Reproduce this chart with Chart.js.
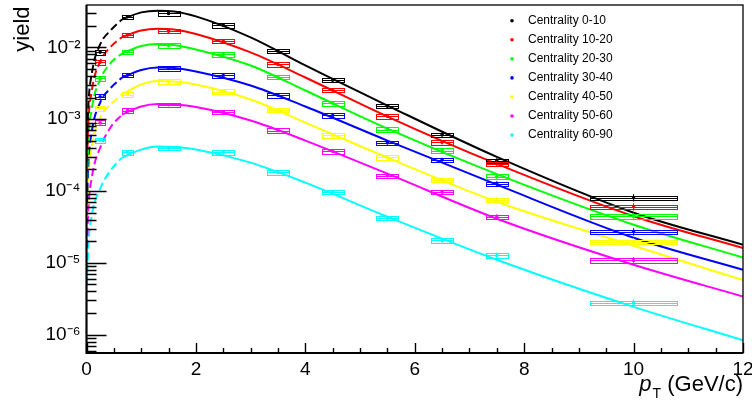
<!DOCTYPE html>
<html>
<head>
<meta charset="utf-8">
<script src="https://cdn.jsdelivr.net/npm/chart.js@4.4.1/dist/chart.umd.min.js"></script>
<style>
html,body{margin:0;padding:0;background:#ffffff;overflow:hidden;}
#c{display:block;}
</style>
</head>
<body>
<canvas id="c" width="752" height="401"></canvas>
<script>
// ---------------- data ----------------
const centralityLabels = ['Centrality 0-10','Centrality 10-20','Centrality 20-30','Centrality 30-40','Centrality 40-50','Centrality 50-60','Centrality 60-90'];
const seriesColors = ['#000000','#ff0000','#00ff00','#0000ff','#ffff00','#ff00ff','#00ffff'];

// measured points (pT bin centres, bin half widths)
const ptCenters    = [0.25, 0.75, 1.5, 2.5, 3.5, 4.5, 5.5, 6.5, 7.5, 10];
const ptHalfWidths = [0.09, 0.1, 0.2, 0.2, 0.2, 0.2, 0.2, 0.2, 0.2, 0.8];
const sysRel  = [0.08, 0.07, 0.07, 0.07, 0.07, 0.07, 0.07, 0.07, 0.07, 0.07];
const statRel = [0.03, 0.02, 0.02, 0.02, 0.03, 0.04, 0.05, 0.07, 0.10, 0.12];

const yield_0_10  = [8.6e-3, 2.68e-2, 2.98e-2, 2.03e-2, 8.88e-3, 3.5e-3, 1.52e-3, 6.1e-4, 2.65e-4, 8.1e-5];
const yield_10_20 = [6.24e-3, 1.485e-2, 1.687e-2, 1.224e-2, 5.8e-3, 2.54e-3, 1.10e-3, 4.78e-4, 2.41e-4, 6.05e-5];
const yield_20_30 = [3.7e-3, 8.7e-3, 1.066e-2, 7.98e-3, 3.86e-3, 1.67e-3, 7.18e-4, 3.66e-4, 1.59e-4, 4.44e-5];
const yield_30_40 = [2.05e-3, 4.11e-3, 5.09e-3, 4.07e-3, 2.16e-3, 1.13e-3, 4.69e-4, 2.72e-4, 1.26e-4, 2.72e-5];
const yield_40_50 = [1.43e-3, 2.21e-3, 3.36e-3, 2.43e-3, 1.36e-3, 5.98e-4, 2.95e-4, 1.43e-4, 7.58e-5, 1.97e-5];
const yield_50_60 = [8.9e-4, 1.32e-3, 1.59e-3, 1.27e-3, 6.95e-4, 3.58e-4, 1.64e-4, 9.7e-5, 4.35e-5, 1.08e-5];
const yield_60_90 = [5.09e-4, 3.47e-4, 3.99e-4, 3.47e-4, 1.82e-4, 9.7e-5, 4.21e-5, 2.05e-5, 1.27e-5, 2.75e-6];

// fitted curves (dashed = extrapolation, solid = fit range)
const fitPtDashed = [0.01, 0.03, 0.1, 0.25, 0.45, 0.65];
const fitPtSolid  = [0.65, 1.0, 1.3, 1.6, 2.0, 3.0, 4.0, 5.5, 7.5, 10, 12];

const fit_0_10_dashed  = [4.44e-4, 1.365e-3, 4.48e-3, 1.101e-2, 1.754e-2, 2.458e-2];
const fit_0_10_solid   = [2.458e-2, 3.077e-2, 3.250e-2, 3.177e-2, 2.706e-2, 1.379e-2, 5.61e-3, 1.553e-3, 2.99e-4, 4.997e-5, 1.788e-5];
const fit_10_20_dashed = [2.57e-4, 7.91e-4, 2.596e-3, 6.38e-3, 1.033e-2, 1.401e-2];
const fit_10_20_solid  = [1.401e-2, 1.726e-2, 1.823e-2, 1.782e-2, 1.543e-2, 8.52e-3, 3.816e-3, 1.091e-3, 2.388e-4, 4.466e-5, 1.608e-5];
const fit_20_30_dashed = [1.442e-4, 4.437e-4, 1.456e-3, 3.58e-3, 6.18e-3, 8.25e-3];
const fit_20_30_solid  = [8.25e-3, 1.049e-2, 1.119e-2, 1.084e-2, 9.38e-3, 5.61e-3, 2.514e-3, 7.42e-4, 1.72e-4, 3.40e-5, 1.189e-5];
const fit_30_40_dashed = [6.89e-5, 2.12e-4, 6.96e-4, 1.709e-3, 2.767e-3, 3.816e-3];
const fit_30_40_solid  = [3.816e-3, 4.856e-3, 5.26e-3, 5.18e-3, 4.63e-3, 2.951e-3, 1.503e-3, 5.05e-4, 1.228e-4, 2.239e-5, 8.01e-6];
const fit_40_50_dashed = [4.256e-5, 1.31e-4, 4.296e-4, 1.056e-3, 1.629e-3, 2.211e-3];
const fit_40_50_solid  = [2.211e-3, 3.048e-3, 3.41e-3, 3.355e-3, 3.048e-3, 1.883e-3, 8.99e-4, 2.922e-4, 7.11e-5, 1.731e-5, 5.76e-6];
const fit_50_60_dashed = [1.624e-5, 4.997e-5, 1.588e-4, 4.03e-4, 7.91e-4, 1.163e-3];
const fit_50_60_solid  = [1.163e-3, 1.503e-3, 1.629e-3, 1.603e-3, 1.48e-3, 9.59e-4, 5.05e-4, 1.748e-4, 4.12e-5, 9.41e-6, 3.40e-6];
const fit_60_90_dashed = [4.95e-6, 1.523e-5, 4.69e-5, 1.08e-4, 1.988e-4, 2.922e-4];
const fit_60_90_solid  = [2.922e-4, 3.78e-4, 4.16e-4, 4.096e-4, 3.78e-4, 2.489e-4, 1.31e-4, 4.395e-5, 1.104e-5, 2.441e-6, 8.38e-7];

// axes
const xMin = 0, xMax = 12, xStep = 2;
const yMin = 5.56e-7, yMax = 0.039;
const yTickValues = [1e-6, 1e-5, 1e-4, 1e-3, 1e-2];
const yTickLabels = ['10\u207B\u2076','10\u207B\u2075','10\u207B\u2074','10\u207B\u00B3','10\u207B\u00B2'];
const xTitleMain = 'p', xTitleSub = 'T', xTitleUnit = ' (GeV/c)';
const yTitle = 'yield';

// --------------- build ---------------
const seriesYields = [yield_0_10, yield_10_20, yield_20_30, yield_30_40, yield_40_50, yield_50_60, yield_60_90];
const seriesDashed = [fit_0_10_dashed, fit_10_20_dashed, fit_20_30_dashed, fit_30_40_dashed, fit_40_50_dashed, fit_50_60_dashed, fit_60_90_dashed];
const seriesSolid  = [fit_0_10_solid, fit_10_20_solid, fit_20_30_solid, fit_30_40_solid, fit_40_50_solid, fit_50_60_solid, fit_60_90_solid];

const FONT = "'Liberation Sans', Arial, Helvetica, sans-serif";
const datasets = [];
seriesColors.forEach((col, i) => {
  datasets.push({
    label: centralityLabels[i] + ' fit (extrapolated)',
    data: fitPtDashed.map((x, j) => ({x: x, y: seriesDashed[i][j]})),
    showLine: true, borderColor: col, backgroundColor: col, borderWidth: 2,
    borderDash: [8, 4], pointRadius: 0, cubicInterpolationMode: 'monotone', fill: false, order: 2
  });
  datasets.push({
    label: centralityLabels[i] + ' fit',
    data: fitPtSolid.map((x, j) => ({x: x, y: seriesSolid[i][j]})),
    showLine: true, borderColor: col, backgroundColor: col, borderWidth: 2,
    pointRadius: 0, cubicInterpolationMode: 'monotone', fill: false, order: 2
  });
});
seriesColors.forEach((col, i) => {
  datasets.push({
    label: centralityLabels[i],
    data: ptCenters.map((x, j) => ({x: x, y: seriesYields[i][j]})),
    showLine: false, borderColor: col, backgroundColor: col, borderWidth: 0,
    pointRadius: 1.8, pointStyle: 'circle', order: 1
  });
});

const rootDecor = {
  id: 'rootDecor',
  afterDatasetsDraw(chart) {
    const {ctx, chartArea: a, scales: {x, y}} = chart;
    ctx.save();
    ctx.beginPath(); ctx.rect(a.left, a.top, a.right - a.left, a.bottom - a.top); ctx.clip();
    seriesYields.forEach((vals, i) => {
      ctx.strokeStyle = seriesColors[i];
      ctx.lineWidth = 1;
      vals.forEach((v, j) => {
        const xl = Math.round(x.getPixelForValue(ptCenters[j] - ptHalfWidths[j])) + 0.5;
        const xr = Math.round(x.getPixelForValue(ptCenters[j] + ptHalfWidths[j])) + 0.5;
        const xc = x.getPixelForValue(ptCenters[j]);
        const yt = Math.round(y.getPixelForValue(v * (1 + sysRel[j]))) + 0.5;
        const yb = Math.round(y.getPixelForValue(v * (1 - sysRel[j]))) + 0.5;
        const yc = Math.round(y.getPixelForValue(v)) + 0.5;
        ctx.strokeRect(xl, yt, xr - xl, yb - yt);
        ctx.beginPath();
        ctx.moveTo(xl, yc); ctx.lineTo(xr, yc);
        ctx.moveTo(xc, y.getPixelForValue(v * (1 + statRel[j])));
        ctx.lineTo(xc, y.getPixelForValue(v * (1 - statRel[j])));
        ctx.stroke();
      });
    });
    ctx.restore();
  },
  afterDraw(chart) {
    const {ctx, chartArea: a, scales: {x, y}} = chart;
    ctx.save();
    ctx.strokeStyle = '#000';
    // frame
    ctx.lineWidth = 1.3;
    ctx.strokeRect(a.left, a.top, a.right - a.left, a.bottom - a.top);
    ctx.lineWidth = 2;
    ctx.beginPath();
    ctx.moveTo(a.left, a.top); ctx.lineTo(a.left, a.bottom); ctx.lineTo(a.right, a.bottom);
    ctx.stroke();
    // y ticks (inside)
    ctx.lineWidth = 1.4;
    ctx.beginPath();
    for (let e = -7; e <= -1; e++) {
      for (let k = 1; k <= 9; k++) {
        const v = k * Math.pow(10, e);
        if (v < yMin || v > yMax) continue;
        const py = Math.round(y.getPixelForValue(v)) + 0.5;
        const len = (k === 1) ? 20 : 10;
        ctx.moveTo(a.left, py); ctx.lineTo(a.left + len, py);
      }
    }
    // x ticks (inside)
    for (let t = xMin; t <= xMax + 1e-9; t += 0.5) {
      const px = Math.round(x.getPixelForValue(t)) + 0.5;
      const major = Math.abs(t / xStep - Math.round(t / xStep)) < 1e-9;
      const len = major ? 10 : 5;
      ctx.moveTo(px, a.bottom); ctx.lineTo(px, a.bottom - len);
    }
    ctx.stroke();

    // legend
    ctx.textBaseline = 'middle';
    ctx.textAlign = 'left';
    ctx.font = '12px ' + FONT;
    centralityLabels.forEach((lab, i) => {
      const ly = 20.7 + i * 19.07;
      ctx.fillStyle = seriesColors[i];
      ctx.beginPath(); ctx.arc(512, ly, 1.8, 0, Math.PI * 2); ctx.fill();
      ctx.fillStyle = '#000';
      ctx.fillText(lab, 528, ly);
    });

    // x title: p_T (GeV/c)
    ctx.fillStyle = '#000';
    ctx.textBaseline = 'alphabetic';
    const fMain = 'italic 22px ' + FONT, fSub = '14px ' + FONT, fUnit = '22px ' + FONT;
    ctx.font = fMain; const wP = ctx.measureText(xTitleMain).width;
    ctx.font = fSub; const wT = ctx.measureText(xTitleSub).width;
    ctx.font = fUnit; const wU = ctx.measureText(xTitleUnit).width;
    let sx = 743 - (wP + wT + 1 + wU);
    ctx.font = fMain; ctx.fillText(xTitleMain, sx, 391); sx += wP + 1;
    ctx.font = fSub; ctx.fillText(xTitleSub, sx, 398); sx += wT;
    ctx.font = fUnit; ctx.fillText(xTitleUnit, sx, 391);

    // y title
    ctx.save();
    ctx.translate(29, 6.5);
    ctx.rotate(-Math.PI / 2);
    ctx.textAlign = 'right';
    ctx.font = '22px ' + FONT;
    ctx.fillText(yTitle, 0, 0);
    ctx.restore();

    ctx.restore();
  }
};

new Chart(document.getElementById('c'), {
  type: 'scatter',
  data: { datasets: datasets },
  options: {
    responsive: false,
    animation: false,
    devicePixelRatio: 1,
    layout: { padding: { top: 5, right: 9, left: 0, bottom: 0 } },
    plugins: { legend: { display: false }, tooltip: { enabled: false }, title: { display: false } },
    scales: {
      x: {
        type: 'linear', min: xMin, max: xMax,
        grid: { display: false, drawTicks: false },
        border: { display: false },
        ticks: { stepSize: xStep, color: '#000', font: { size: 19, family: FONT }, padding: 5, maxRotation: 0, autoSkip: false },
        afterFit(s) { s.height = 48; s.paddingLeft = 0; s.paddingRight = 0; }
      },
      y: {
        type: 'logarithmic', min: yMin, max: yMax,
        grid: { display: false, drawTicks: false },
        border: { display: false },
        afterBuildTicks(s) { s.ticks = yTickValues.map(v => ({ value: v })); },
        ticks: {
          color: '#000', font: { size: 19, family: FONT }, padding: 6, autoSkip: false,
          callback: (v, i) => yTickLabels[i]
        },
        afterFit(s) { s.width = 86.5; s.paddingTop = 0; s.paddingBottom = 0; }
      }
    }
  },
  plugins: [rootDecor]
});
</script>
</body>
</html>
